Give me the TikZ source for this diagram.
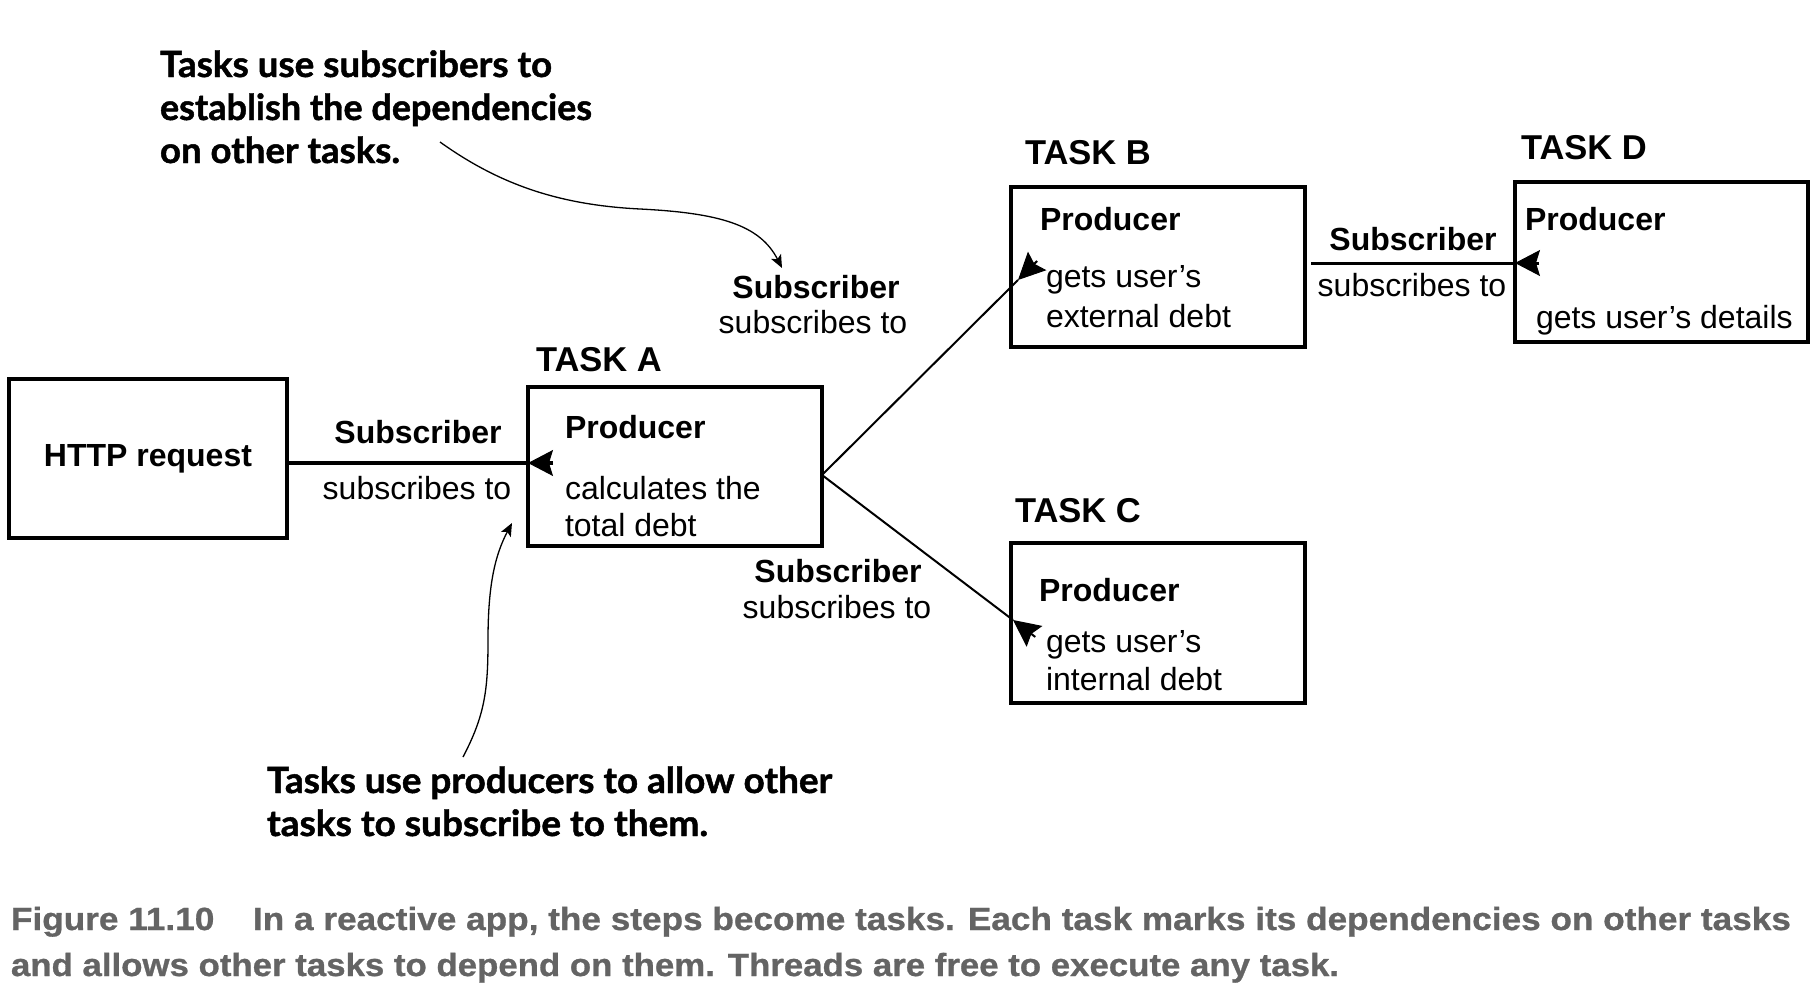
\documentclass[tikz,border=0pt]{standalone}
\usepackage{fontspec}
\usepackage{graphicx}
\setmainfont{Liberation Sans}
\newfontfamily\annfont{Lato}[BoldFeatures={FakeBold=1.3}]
\newfontfamily\capfont{Liberation Sans}[BoldFeatures={FakeBold=0.8}]
\usetikzlibrary{arrows.meta,calc}
\definecolor{capgray}{RGB}{100,100,100}
\begin{document}
\begin{tikzpicture}[x=1pt,y=-1pt,
  box/.style={draw,line width=3.5pt,inner sep=0pt,outer sep=0pt},
  rtxt/.style={inner sep=0pt,outer sep=0pt,font=\fontsize{32}{38}\selectfont},
  btxt/.style={inner sep=0pt,outer sep=0pt,font=\fontsize{32}{38}\selectfont\bfseries},
  ttl/.style={inner sep=0pt,outer sep=0pt,anchor=base west,font=\fontsize{34.5}{40}\selectfont\bfseries},
  bigconn/.style={line width=4pt},
  midconn/.style={line width=3pt},
  thinconn/.style={line width=2pt},
  headA/.style={-{Stealth[length=25pt,width=26pt,inset=4pt,line width=1pt]}},
  headB/.style={-{Stealth[length=27pt,width=26pt,inset=4pt,line width=1pt]}},
  note/.style={line width=1.3pt,-{Stealth[length=13pt,width=11pt,inset=3pt]}},
  annot/.style={inner sep=0pt,outer sep=0pt,anchor=base west,font=\annfont\bfseries\fontsize{36}{43}\selectfont},
  captxt/.style={inner sep=0pt,outer sep=0pt,anchor=base west,text=capgray,font=\capfont\bfseries\fontsize{32}{46}\selectfont}]
\fill[white] (0,0) rectangle (1816,986);
\useasboundingbox (0,0) rectangle (1816,986);

% boxes
\node[box,minimum width=278pt,minimum height=159pt,font=\fontsize{32}{38}\selectfont\bfseries] (http) at (148,458.5) {HTTP request\hspace{4pt}};
\node[box,minimum width=294pt,minimum height=159pt] (A) at (675,466.5) {};
\node[box,minimum width=294pt,minimum height=160pt] (B) at (1158,267) {};
\node[box,minimum width=294pt,minimum height=160pt] (C) at (1158,623) {};
\node[box,minimum width=293pt,minimum height=160pt] (D) at (1661.5,262) {};

% titles
\node[ttl] (tA) at (536,371) {TASK A};
\node[ttl] (tBl) at (1025,164) {TASK B};
\node[ttl] (tCl) at (1015,522) {TASK C};
\node[ttl] (tDl) at (1521,159) {TASK D};

% box contents
\node[btxt,anchor=base west] (pA) at (565,438) {Producer};
\node[rtxt,anchor=base west] (dA1) at (565,499) {calculates the};
\node[rtxt,anchor=base west] (dA2) at (565,536) {total debt};
\node[btxt,anchor=base west] (pB) at (1040,230) {Producer};
\node[rtxt,anchor=base west] (dB1) at (1046,287) {gets user’s};
\node[rtxt,anchor=base west] (dB2) at (1046,327) {external debt};
\node[btxt,anchor=base west] (pC) at (1039,601) {Producer};
\node[rtxt,anchor=base west] (dC1) at (1046,652) {gets user’s};
\node[rtxt,anchor=base west] (dC2) at (1046,690) {internal debt};
\node[btxt,anchor=base west] (pD) at (1525,230) {Producer};
\node[rtxt,anchor=base west] (dD1) at (1536,328) {gets user’s details};

% connector labels
\node[btxt,anchor=base] (s1) at (418,443) {Subscriber};
\node[rtxt,anchor=base] (s1b) at (417,499) {subscribes to};
\node[btxt,anchor=base] (s2) at (816,298) {Subscriber};
\node[rtxt,anchor=base] (s2b) at (813,333) {subscribes to};
\node[btxt,anchor=base] (s3) at (838,582) {Subscriber};
\node[rtxt,anchor=base] (s3b) at (837,618) {subscribes to};
\node[btxt,anchor=base] (s4) at (1413,250) {Subscriber};
\node[rtxt,anchor=base] (s4b) at (1412,296) {subscribes to};

% connectors
\coordinate (hA) at (0,463);
\draw[bigconn] (http.east |- hA) -- (A.west |- hA);
\draw[bigconn,headA] ($(A.west |- hA)+(25,0)$) -- (A.west |- hA);

\coordinate (hD) at (0,263);
\coordinate (bdS) at (1311,263);
\draw[midconn] (bdS) -- (D.west |- hD);
\draw[midconn,headA] ($(D.west |- hD)+(24,0)$) -- (D.west |- hD);

\coordinate (aR) at ([yshift=-8.5pt]A.east);
\coordinate (tB) at (1018,280);
\coordinate (tC) at (1013,620);
\draw[thinconn] (aR) -- (tB);
\draw[thinconn,headB] ($(tB)!-27pt!(aR)$) -- (tB);
\draw[thinconn] (aR) -- (tC);
\draw[thinconn,headB] ($(tC)!-28pt!(aR)$) -- (tC);

% annotations
\node[annot] (n1) at (160,77) {\vtop{\baselineskip=43pt\lineskiplimit=-1000pt
  \hbox{\resizebox{392pt}{\height}{Tasks use subscribers to}}
  \hbox{\resizebox{432pt}{\height}{establish the dependencies}}
  \hbox{\resizebox{240pt}{\height}{on other tasks.}}}};
\node[annot] (n2) at (267,793) {\vtop{\baselineskip=43pt\lineskiplimit=-1000pt
  \hbox{\resizebox{565pt}{\height}{Tasks use producers to allow other}}
  \hbox{\resizebox{441pt}{\height}{tasks to subscribe to them.}}}};

\coordinate (c1s) at (440,142);
\coordinate (c1e) at (782,268);
\draw[note] (c1s) .. controls (500,185) and (560,205) .. (640,209) .. controls (720,213) and (760,225) .. (c1e);
\coordinate (c2s) at (463,757);
\coordinate (c2e) at (512,523);
\draw[note] (c2s) .. controls (485,715) and (488,690) .. (488,640) .. controls (488,585) and (495,555) .. (c2e);

% caption
\node[captxt] (cap) at (11,930) {\vtop{\baselineskip=46pt\lineskiplimit=-1000pt
  \hbox{\resizebox{1780pt}{\height}{Figure 11.10\hspace{1.1em}In a reactive app, the steps become tasks. Each task marks its dependencies on other tasks}}
  \hbox{\resizebox{1328pt}{\height}{and allows other tasks to depend on them. Threads are free to execute any task.}}}};
\end{tikzpicture}
\end{document}
